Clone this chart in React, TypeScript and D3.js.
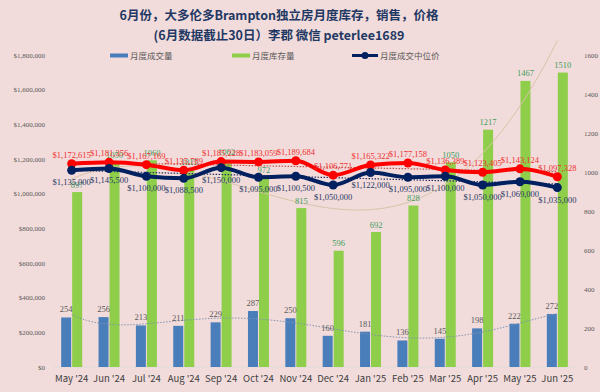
import React, { useRef, useEffect } from "react";
import * as d3 from "d3";

const months = ["May '24", "Jun '24", "Jul '24", "Aug '24", "Sep '24", "Oct '24", "Nov '24", "Dec '24", "Jan '25", "Feb '25", "Mar '25", "Apr '25", "May '25", "Jun '25"];
const sales = [254, 256, 213, 211, 229, 287, 250, 160, 181, 136, 145, 198, 222, 272];
const inventory = [897, 1050, 1060, 1015, 1062, 972, 815, 596, 692, 828, 1050, 1217, 1467, 1510];
const medianPrice = [1135000, 1145500, 1100000, 1088500, 1150000, 1095000, 1100500, 1050000, 1122000, 1095000, 1100000, 1050000, 1069000, 1035000];
const avgPrice = [1172615, 1181356, 1167169, 1135789, 1185228, 1183059, 1189684, 1106771, 1165322, 1177158, 1136389, 1123405, 1143124, 1097328];
const leftTicks = [0, 200000, 400000, 600000, 800000, 1000000, 1200000, 1400000, 1600000, 1800000];
const rightTicks = [0, 200, 400, 600, 800, 1000, 1200, 1400, 1600];

const W = 600, H = 392;
const FONT = "'Noto Sans CJK SC', 'Noto Sans', sans-serif";

// least squares polynomial fit, returns a function of x
function polyFit(ys: number[], order: number) {
  const n = order + 1;
  const A: number[][] = [];
  for (let i = 0; i < n; i++) {
    A.push(new Array(n + 1).fill(0));
  }
  ys.forEach((y, k) => {
    const x = (k + 1) / ys.length;
    for (let i = 0; i < n; i++) {
      for (let j = 0; j < n; j++) A[i][j] += Math.pow(x, i + j);
      A[i][n] += y * Math.pow(x, i);
    }
  });
  for (let i = 0; i < n; i++) {
    let p = i;
    for (let r = i + 1; r < n; r++) if (Math.abs(A[r][i]) > Math.abs(A[p][i])) p = r;
    [A[i], A[p]] = [A[p], A[i]];
    for (let r = 0; r < n; r++) {
      if (r === i) continue;
      const f = A[r][i] / A[i][i];
      for (let c = i; c <= n; c++) A[r][c] -= f * A[i][c];
    }
  }
  const coef = A.map((row, i) => row[n] / row[i]);
  return (k: number) => {
    const x = (k + 1) / ys.length;
    return coef.reduce((s, c, i) => s + c * Math.pow(x, i), 0);
  };
}

function Chart() {
  const svgRef = useRef<SVGSVGElement>(null);

  useEffect(() => {
    const svg = d3.select(svgRef.current);
    svg.selectAll("*").remove();

    const x = d3.scaleBand().domain(months).range([53, 576]).padding(0);
    const cx = (d: string) => (x(d) as number) + x.bandwidth() / 2;
    const yL = d3.scaleLinear().domain([0, 1800000]).range([367, 55]);
    const yR = d3.scaleLinear().domain([0, 1600]).range([367, 55]);
    const money = d3.format("$,.0f");

    svg.append("rect").attr("width", W).attr("height", H).attr("fill", "#f2dcdb");

    // title
    const title = svg.append("text").attr("text-anchor", "middle").attr("font-family", FONT)
      .attr("font-weight", "bold").attr("font-size", 12.5).attr("fill", "#1f3864");
    title.append("tspan").attr("x", 279).attr("y", 20).text("6月份，大多伦多Brampton独立房月度库存，销售，价格");
    title.append("tspan").attr("x", 279).attr("y", 40).text("(6月数据截止30日）李郡 微信 peterlee1689");

    // axes labels
    svg.append("g").selectAll("text").data(leftTicks).join("text")
      .attr("x", 45).attr("y", d => yL(d) + 2.5).attr("text-anchor", "end")
      .attr("font-family", "'Liberation Serif', serif").attr("font-size", 7).attr("fill", "#595959")
      .text(d => money(d));
    svg.append("g").selectAll("text").data(rightTicks).join("text")
      .attr("x", 584).attr("y", d => yR(d) + 2.5)
      .attr("font-family", "'Liberation Serif', serif").attr("font-size", 7).attr("fill", "#595959")
      .text(d => d);
    svg.append("line").attr("x1", 53).attr("x2", 576).attr("y1", 367).attr("y2", 367)
      .attr("stroke", "#d9d9d9").attr("stroke-width", 0.8);
    svg.append("g").selectAll("text").data(months).join("text")
      .attr("x", d => cx(d)).attr("y", 382).attr("text-anchor", "middle")
      .attr("font-family", FONT).attr("font-size", 9.5).attr("fill", "#404040")
      .text(d => d);

    // bars
    svg.append("g").selectAll("rect").data(sales).join("rect")
      .attr("x", (d, i) => cx(months[i]) - 10.5).attr("width", 10)
      .attr("y", d => yR(d)).attr("height", d => 367 - yR(d)).attr("fill", "#4a7ebb");
    svg.append("g").selectAll("rect").data(inventory).join("rect")
      .attr("x", (d, i) => cx(months[i]) + 0.5).attr("width", 10)
      .attr("y", d => yR(d)).attr("height", d => 367 - yR(d)).attr("fill", "#8fce4a");

    // trend lines
    const idx = d3.range(0, months.length - 1 + 0.001, 0.1);
    const xi = (k: number) => cx(months[0]) + k * x.bandwidth();
    const trend = (fn: (k: number) => number, sc: d3.ScaleLinear<number, number>, color: string, dash: string, wdt: number) => {
      svg.append("path").datum(idx)
        .attr("d", d3.line<number>().x(k => xi(k)).y(k => sc(fn(k))))
        .attr("fill", "none").attr("stroke", color).attr("stroke-width", wdt).attr("stroke-dasharray", dash);
    };
    trend(polyFit(inventory, 3), yR, "#d8c3a8", "none", 1);
    trend(polyFit(sales, 5), yR, "#8194b0", "1.5,1.5", 1);
    trend(polyFit(avgPrice, 1), yL, "#c0504d", "1.5,1.5", 1.2);
    trend(polyFit(medianPrice, 1), yL, "#1f2f60", "1.5,1.5", 1.2);

    // price lines
    const drawLine = (vals: number[], color: string) => {
      svg.append("path").datum(vals)
        .attr("d", d3.line<number>().x((d, i) => cx(months[i])).y(d => yL(d)).curve(d3.curveMonotoneX))
        .attr("fill", "none").attr("stroke", color).attr("stroke-width", 4);
      svg.append("g").selectAll("circle").data(vals).join("circle")
        .attr("cx", (d, i) => cx(months[i])).attr("cy", d => yL(d)).attr("r", 4.5).attr("fill", color);
    };
    drawLine(avgPrice, "#ff0000");
    drawLine(medianPrice, "#002060");

    // data labels
    const labels = (vals: number[], xf: (i: number) => number, yf: (d: number) => number, fmt: (d: number) => string, color: string) => {
      svg.append("g").selectAll("text").data(vals).join("text")
        .attr("x", (d, i) => xf(i)).attr("y", d => yf(d)).attr("text-anchor", "middle")
        .attr("font-family", "'Liberation Serif', serif").attr("font-size", 8.5).attr("fill", color)
        .text(d => fmt(d));
    };
    labels(sales, i => cx(months[i]) - 5.5, d => yR(d) - 5, d => String(d), "#595959");
    labels(inventory, i => cx(months[i]) + 5.5, d => yR(d) - 4.5, d => String(d), "#3f9c5e");
    labels(avgPrice, i => cx(months[i]), d => yL(d) - 6, money, "#ee3030");
    labels(medianPrice, i => cx(months[i]), d => yL(d) + 15, money, "#1f3864");

    // legend
    const lg = svg.append("g").attr("font-family", FONT).attr("font-size", 8.5).attr("fill", "#595959");
    lg.append("rect").attr("x", 110).attr("y", 53.5).attr("width", 18).attr("height", 4).attr("fill", "#4a7ebb");
    lg.append("text").attr("x", 130).attr("y", 59).text("月度成交量");
    lg.append("rect").attr("x", 232).attr("y", 53.5).attr("width", 18).attr("height", 4).attr("fill", "#8fce4a");
    lg.append("text").attr("x", 252).attr("y", 59).text("月度库存量");
    lg.append("line").attr("x1", 352).attr("x2", 378).attr("y1", 55.5).attr("y2", 55.5)
      .attr("stroke", "#002060").attr("stroke-width", 3);
    lg.append("circle").attr("cx", 365).attr("cy", 55.5).attr("r", 3.5).attr("fill", "#002060");
    lg.append("text").attr("x", 380).attr("y", 59).text("月度成交中位价");
  }, []);

  return <svg ref={svgRef} width={W} height={H} style={{ position: "absolute", left: 0, top: 0 }} />;
}

export default function App() {
  return <Chart />;
}
